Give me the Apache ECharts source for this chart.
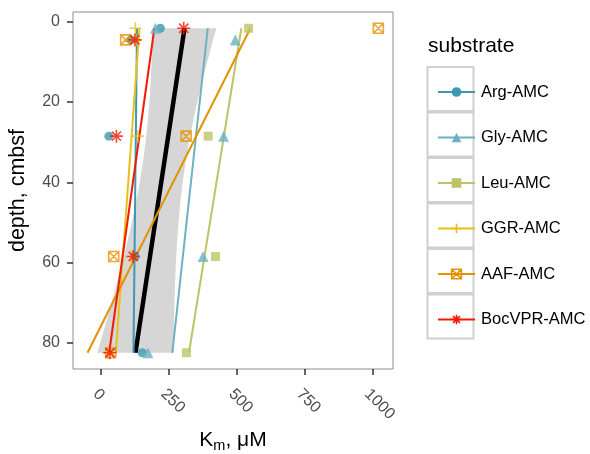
<!DOCTYPE html>
<html><head><meta charset="utf-8">
<script src="https://cdn.jsdelivr.net/npm/echarts@6/dist/echarts.min.js"></script>
<style>html,body{margin:0;padding:0;background:#fff}#c{width:590px;height:454px}</style>
</head><body><div id="c"></div>
<script>
// ---- data (depth in cmbsf, Km in µM) ----
const substrates = ['Arg-AMC','Gly-AMC','Leu-AMC','GGR-AMC','AAF-AMC','BocVPR-AMC'];
const argDepth = [1.6, 4.5, 28.5, 58.5, 82.5];
const argKm    = [218, 110, 28, 125, 151];
const glyDepth = [1.6, 4.5, 28.5, 58.5, 82.5];
const glyKm    = [200, 494, 451, 375, 172];
const leuDepth = [1.6, 28.5, 58.5, 82.5];
const leuKm    = [543, 394, 421, 314];
const ggrDepth = [1.6, 4.5, 28.5, 58.5, 82.5];
const ggrKm    = [126, 128, 135, 110, 25];
const aafDepth = [1.6, 4.5, 28.5, 58.5, 82.5];
const aafKm    = [1021, 90, 313, 46, 35];
const bocDepth = [1.6, 4.5, 28.5, 58.5, 82.5];
const bocKm    = [304, 124, 56, 118, 32];
const xTicks = [0, 250, 500, 750, 1000];
const yTicks = [0, 20, 40, 60, 80];

// ---- styles ----
const colors = ['#3B9AB2','#6CB1C1','#BDC468','#E7C019','#E49100','#F21A00'];
const symbols = ['circle','triangle','rect',
  'path://M5,0L5,10M0,5L10,5',
  'path://M0,0L10,0L10,10L0,10ZM0,0L10,10M10,0L0,10',
  'path://M5,0L5,10M0,5L10,5M1.46,1.46L8.54,8.54M8.54,1.46L1.46,8.54'];
const symSizes = [9, 11, 9, 12, 10, 13];
const stroked = [false,false,false,true,true,true];

const depths = [argDepth, glyDepth, leuDepth, ggrDepth, aafDepth, bocDepth];
const kms = [argKm, glyKm, leuKm, ggrKm, aafKm, bocKm];

function lm(xs, ys) {
  const n = xs.length;
  const mx = xs.reduce((a,b)=>a+b,0)/n, my = ys.reduce((a,b)=>a+b,0)/n;
  let sxx=0, sxy=0;
  for (let i=0;i<n;i++){ sxx+=(xs[i]-mx)**2; sxy+=(xs[i]-mx)*(ys[i]-my); }
  const b = sxy/sxx, a = my - b*mx;
  let sse=0; for (let i=0;i<n;i++){ sse += (ys[i]-(a+b*xs[i]))**2; }
  return {a, b, n, mx, sxx, s: Math.sqrt(sse/(n-2))};
}

const series = [];
// overall fit + 95% CI band
const allD = [].concat(...depths), allK = [].concat(...kms);
const fit = lm(allD, allK);
const T975 = 2.0518; // qt(0.975, df = 27)
const dMin = Math.min(...allD), dMax = Math.max(...allD);
const bandUpper = [], bandLower = [];
for (let i=0;i<80;i++){
  const d = dMin + (dMax-dMin)*i/79;
  const yhat = fit.a + fit.b*d;
  const se = fit.s*Math.sqrt(1/fit.n + (d-fit.mx)**2/fit.sxx);
  bandUpper.push([yhat + T975*se, d]);
  bandLower.push([yhat - T975*se, d]);
}
series.push({
  type:'custom', silent:true, z:1,
  data:[[0,0]],
  renderItem:(params, api) => {
    const pts = bandUpper.map(p=>api.coord(p)).concat(bandLower.slice().reverse().map(p=>api.coord(p)));
    return {type:'polygon', shape:{points:pts}, style:{fill:'#D6D6D6'}};
  }
});
series.push({
  type:'line', silent:true, z:2, symbol:'none',
  data:[[fit.a+fit.b*dMin, dMin],[fit.a+fit.b*dMax, dMax]],
  lineStyle:{color:'#000', width:4.5}
});

substrates.forEach((name, i) => {
  const f = lm(depths[i], kms[i]);
  const d0 = Math.min(...depths[i]), d1 = Math.max(...depths[i]);
  const itemStyle = stroked[i]
    ? {color:'rgba(0,0,0,0)', borderColor:colors[i], borderWidth:1.6}
    : {color:colors[i], borderWidth:0};
  series.push({
    type:'line', name, z:3, symbol:symbols[i], showSymbol:false, symbolSize:symSizes[i],
    data:[[f.a+f.b*d0, d0],[f.a+f.b*d1, d1]],
    lineStyle:{color:colors[i], width:2}, itemStyle, color:colors[i],
    emphasis:{disabled:true}
  });
  series.push({
    type:'scatter', name, z:4, symbol:symbols[i], symbolSize:symSizes[i],
    data: depths[i].map((d,j)=>[kms[i][j], d]),
    itemStyle, emphasis:{disabled:true}
  });
});

const chart = echarts.init(document.getElementById('c'), null, {renderer:'canvas'});
const font = 'Liberation Sans, Arial, Helvetica, sans-serif';
chart.setOption({
  animation:false,
  backgroundColor:'#fff',
  textStyle:{fontFamily:font},
  grid:{left:73, top:12, width:320, height:357, containLabel:false, outerBoundsMode:'none',
    show:true, borderColor:'#8c8c8c', borderWidth:1, backgroundColor:'#fff'},
  xAxis:{
    type:'value', min:-104, max:1075, position:'bottom',
    axisLine:{show:false, onZero:false}, splitLine:{show:false},
    axisTick:{show:true, length:6, customValues:xTicks, lineStyle:{color:'#333', width:1.5}},
    axisLabel:{customValues:xTicks, rotate:-45, margin:17, align:'left', verticalAlign:'top',
      fontSize:16, color:'#4D4D4D', fontFamily:font, formatter:v=>String(v)},
    name:'{a|K}{s|m}{a|, μM}', nameLocation:'middle', nameGap:57,
    nameTextStyle:{fontFamily:font, rich:{
      a:{fontSize:21, lineHeight:26, color:'#000', fontFamily:font},
      s:{fontSize:14.5, lineHeight:14, verticalAlign:'bottom', color:'#000', fontFamily:font}}}
  },
  yAxis:{
    type:'value', inverse:true, min:-2.45, max:86.55, position:'left',
    axisLine:{show:false, onZero:false}, splitLine:{show:false},
    axisTick:{show:true, length:6, customValues:yTicks, lineStyle:{color:'#333', width:1.5}},
    axisLabel:{customValues:yTicks, margin:13, fontSize:16, color:'#4D4D4D', fontFamily:font},
    name:'depth, cmbsf', nameLocation:'middle', nameGap:44, nameRotate:90,
    nameTextStyle:{fontSize:21.5, color:'#000', fontFamily:font}
  },
  legend:{
    orient:'vertical', left:432, top:77, itemWidth:37, itemHeight:12, itemGap:25.5,
    selectedMode:false,
    textStyle:{fontSize:16.5, lineHeight:20, color:'#000', fontFamily:font, padding:[0,0,0,1]},
    data: substrates.map((name,i)=>({name, itemStyle: stroked[i]
      ? {color:'rgba(0,0,0,0)', borderColor:colors[i], borderWidth:1.6}
      : {color:colors[i], borderWidth:0},
      lineStyle:{color:colors[i], width:2}}))
  },
  graphic:[
    {type:'text', left:428, top:36, style:{text:'substrate', fontSize:21, fill:'#000', fontFamily:font}},
    ...substrates.map((s,i)=>({type:'rect', z:-1, shape:{x:427.5, y:67+45.5*i, width:46, height:44},
      style:{fill:'#fff', stroke:'#D0D0D0', lineWidth:2}}))
  ],
  series
});
</script></body></html>
